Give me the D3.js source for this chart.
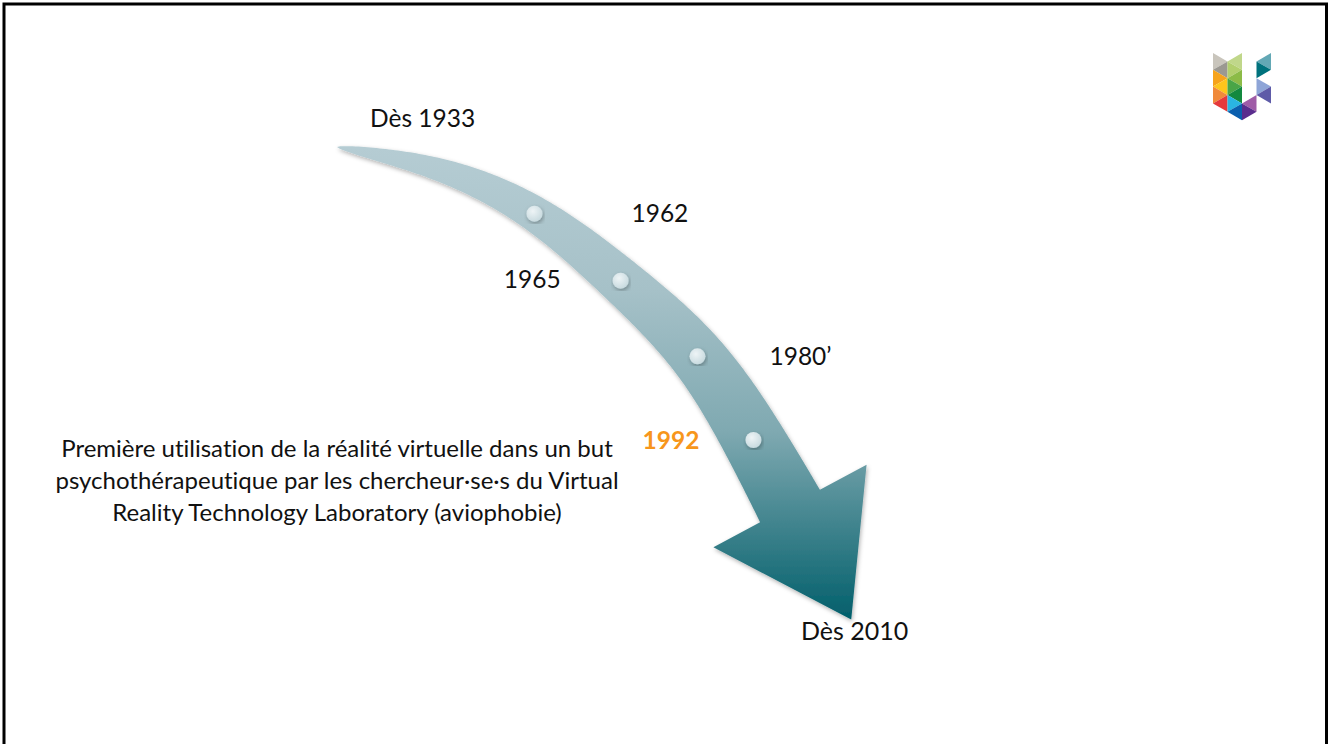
<!DOCTYPE html>
<html>
<head>
<meta charset="utf-8">
<script src="https://cdn.jsdelivr.net/npm/d3@7"></script>
<style>
    html, body { margin: 0; padding: 0; background: #fff; }
    svg { display: block; }
    text { font-family: Lato, "Open Sans", sans-serif; fill: #111; font-variant-ligatures: none; }
</style>
</head>
<body>
<div id="chart"></div>
<script>
(function () {
    "use strict";

    const width = 1328;
    const height = 744;

    // Guide of the timeline arrow, in its own units (tail = 0,0)
    const guideX = [0, 103, 198, 284, 361, 417, 453];
    const guideY = [0, 23, 67, 134, 210, 294, 359];

    // Milestones along the arrow (fraction of its length)
    const eventYears = ["1962", "1965", "1980’", "1992"];
    const eventPositions = [0.348, 0.529, 0.708, 0.875];
    const eventHighlight = [false, false, false, true];

    const startLabel = "Dès 1933";
    const endLabel = "Dès 2010";

    const noteLines = [
        "Première utilisation de la réalité virtuelle dans un but",
        "psychothérapeutique par les chercheur·se·s du Virtual",
        "Reality Technology Laboratory (aviophobie)"
    ];

    // Logo mosaic: column, row, colour
    const logoCols = [0, 0, 0, 0, 0, 0, 1, 1, 1, 1, 1, 1, 1, 2, 2, 3, 3, 3, 3];
    const logoRows = [1, 2, 3, 4, 5, 6, 1, 2, 3, 4, 5, 6, 7, 6, 7, 1, 2, 4, 5];
    const logoColors = [
        "#c9c5bc", "#9b9891", "#f6a31b", "#fdc51c", "#f08a3b", "#e5393c",
        "#c0d78a", "#b2cf6e", "#8cbb47", "#49a547", "#13893f", "#2ab5e2", "#0a5fae",
        "#9f5ca7", "#5a2d8d",
        "#63a8b5", "#00727d", "#8ea5d7", "#5e5ba8"
    ];

    // Layout
    const x = d3.scaleLinear().domain([0, 453]).range([337, 790]);
    const y = d3.scaleLinear().domain([0, 359]).range([147, 506]);
    const shaftEndWidth = 68;
    const barbHalf = 87;
    const headLength = 129;
    const labelOffsets = [[97, 8, "start"], [-60, 7, "end"], [72, 9, "start"], [-54, 9, "end"]];
    const startOffset = [33, -20];
    const endOffset = [11, 134];
    const noteX = 337;
    const noteY = 457;
    const noteLineHeight = 32;
    const logoX = d3.scaleLinear().domain([0, 4]).range([1213, 1271]);
    const logoY = d3.scaleLinear().domain([0, 8]).range([53, 120.2]);

    const svg = d3.select("#chart").append("svg")
        .attr("width", width)
        .attr("height", height);

    const defs = svg.append("defs");

    const grad = defs.append("linearGradient")
        .attr("id", "arrow-fill")
        .attr("gradientUnits", "userSpaceOnUse")
        .attr("x1", 0).attr("y1", 147)
        .attr("x2", 0).attr("y2", 622);
    [[0, "#b5ccd3"], [0.3, "#a6c1c8"], [0.6, "#7fa9b1"], [0.8, "#3f838d"], [1, "#005e6a"]]
        .forEach(([o, c]) => grad.append("stop").attr("offset", o).attr("stop-color", c));

    const dotGrad = defs.append("radialGradient")
        .attr("id", "dot-fill")
        .attr("cx", "40%").attr("cy", "35%").attr("r", "70%");
    dotGrad.append("stop").attr("offset", 0).attr("stop-color", "#eef4f6");
    dotGrad.append("stop").attr("offset", 1).attr("stop-color", "#c6d9de");

    const shadow = defs.append("filter")
        .attr("id", "shadow")
        .attr("x", "-10%").attr("y", "-10%")
        .attr("width", "120%").attr("height", "120%");
    shadow.append("feDropShadow")
        .attr("dx", 1).attr("dy", 2)
        .attr("stdDeviation", 2)
        .attr("flood-color", "#000")
        .attr("flood-opacity", 0.3);

    // frame
    svg.append("rect")
        .attr("x", 4).attr("y", 4)
        .attr("width", 1322.5).attr("height", 780)
        .attr("fill", "none")
        .attr("stroke", "#000")
        .attr("stroke-width", 3);

    // guide line used to build the arrow
    const guide = svg.append("path")
        .attr("d", d3.line()
            .x((i) => x(guideX[i]))
            .y((i) => y(guideY[i]))
            .curve(d3.curveNatural)(d3.range(guideX.length)))
        .attr("fill", "none")
        .attr("stroke", "none");

    const g = guide.node();
    const total = g.getTotalLength();

    function frameAt(s) {
        const p = g.getPointAtLength(s);
        const a = g.getPointAtLength(Math.max(0, s - 2));
        const b = g.getPointAtLength(Math.min(total, s + 2));
        const len = Math.hypot(b.x - a.x, b.y - a.y);
        const tx = (b.x - a.x) / len;
        const ty = (b.y - a.y) / len;
        return { x: p.x, y: p.y, tx: tx, ty: ty, nx: -ty, ny: tx };
    }

    const steps = 200;
    const lower = [];
    const upper = [];
    for (let i = 0; i <= steps; i++) {
        const s = total * i / steps;
        const f = frameAt(s);
        const hw = shaftEndWidth / 2 * Math.pow(s / total, 0.62);
        lower.push([f.x + f.nx * hw, f.y + f.ny * hw]);
        upper.push([f.x - f.nx * hw, f.y - f.ny * hw]);
    }

    const end = frameAt(total);
    const head = [
        [end.x - end.nx * barbHalf, end.y - end.ny * barbHalf],
        [end.x + end.tx * headLength, end.y + end.ty * headLength],
        [end.x + end.nx * barbHalf, end.y + end.ny * barbHalf]
    ];

    const outline = upper.concat(head, lower.slice().reverse());

    svg.append("path")
        .attr("d", d3.line().curve(d3.curveLinearClosed)(outline))
        .attr("fill", "url(#arrow-fill)")
        .attr("filter", "url(#shadow)");

    // milestones
    const events = eventYears.map((year, i) => {
        const f = frameAt(total * eventPositions[i]);
        return { year: year, x: f.x, y: f.y, highlight: eventHighlight[i], off: labelOffsets[i] };
    });

    svg.append("g")
        .selectAll("circle")
        .data(events)
        .join("circle")
        .attr("cx", (d) => d.x)
        .attr("cy", (d) => d.y)
        .attr("r", 8)
        .attr("fill", "url(#dot-fill)")
        .attr("filter", "url(#shadow)");

    svg.append("g")
        .selectAll("text")
        .data(events)
        .join("text")
        .attr("x", (d) => d.x + d.off[0])
        .attr("y", (d) => d.y + d.off[1])
        .attr("text-anchor", (d) => d.off[2])
        .style("font-size", "24.5px")
        .style("font-weight", (d) => d.highlight ? 700 : 400)
        .style("fill", (d) => d.highlight ? "#f7961c" : "#111")
        .text((d) => d.year);

    const start = frameAt(0);
    svg.append("text")
        .attr("x", start.x + startOffset[0])
        .attr("y", start.y + startOffset[1])
        .style("font-size", "24.5px")
        .text(startLabel);

    svg.append("text")
        .attr("x", end.x + endOffset[0])
        .attr("y", end.y + endOffset[1])
        .style("font-size", "25px")
        .text(endLabel);

    svg.append("text")
        .attr("text-anchor", "middle")
        .style("font-size", "24px")
        .selectAll("tspan")
        .data(noteLines)
        .join("tspan")
        .attr("x", noteX)
        .attr("y", (d, i) => noteY + i * noteLineHeight)
        .text((d) => d);

    // logo
    const a = (logoY(1) - logoY(0));
    svg.append("g")
        .selectAll("path")
        .data(logoColors)
        .join("path")
        .attr("d", (c, i) => {
            const col = logoCols[i];
            const x0 = logoX(col);
            const x1 = logoX(col + 1);
            const yc = logoY(logoRows[i]);
            const pts = (logoRows[i] + col) % 2 === 1
                ? [[x0, yc - a], [x1, yc], [x0, yc + a]]
                : [[x1, yc - a], [x0, yc], [x1, yc + a]];
            return d3.line().curve(d3.curveLinearClosed)(pts);
        })
        .attr("fill", (c) => c);
}());
</script>
</body>
</html>
